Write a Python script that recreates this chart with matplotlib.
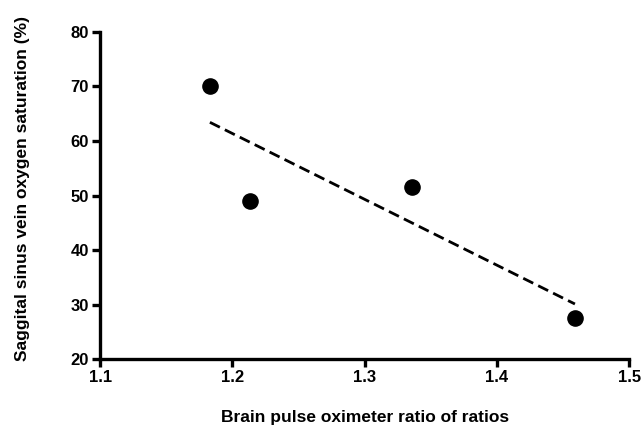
import numpy as np
import matplotlib.pyplot as plt

plt.rcParams['font.family'] = ['Liberation Sans', 'DejaVu Sans']
plt.rcParams['font.weight'] = 'bold'

# ratio of ratios vs measured saturation
ratio = [1.183, 1.213, 1.336, 1.459]
saturation = [70.1, 49.0, 51.6, 27.6]

fig = plt.figure(figsize=(6.42, 4.26), dpi=100)
ax = fig.add_axes([0.156, 0.157, 0.824, 0.768])

ax.scatter(ratio, saturation, s=120, color='black', zorder=3, clip_on=False)

# linear fit over the data range
slope, icpt = np.polyfit(ratio, saturation, 1)
xf = np.array([min(ratio), max(ratio)])
ax.plot(xf, slope * xf + icpt, color='black', linestyle=(0, (4, 2)), linewidth=2)

ax.set_xlim(1.1, 1.5)
ax.set_ylim(20, 80)
ax.set_xticks([1.1, 1.2, 1.3, 1.4, 1.5])
ax.set_yticks([20, 30, 40, 50, 60, 70, 80])
ax.set_xticklabels(['1.1', '1.2', '1.3', '1.4', '1.5'])

for s in ['top', 'right']:
    ax.spines[s].set_visible(False)
for s in ['left', 'bottom']:
    ax.spines[s].set_linewidth(2.4)
ax.tick_params(width=2.4, length=6, labelsize=12, pad=2)
for lab in ax.get_xticklabels() + ax.get_yticklabels():
    lab.set_fontweight('bold')

ax.set_xlabel('Brain pulse oximeter ratio of ratios', fontsize=12.5, fontweight='bold', labelpad=18)
ax.set_ylabel('Saggital sinus vein oxygen saturation (%)', fontsize=12.5, fontweight='bold')
ax.yaxis.set_label_coords(-0.133, 0.52)

fig.savefig('out.png', dpi=100)
